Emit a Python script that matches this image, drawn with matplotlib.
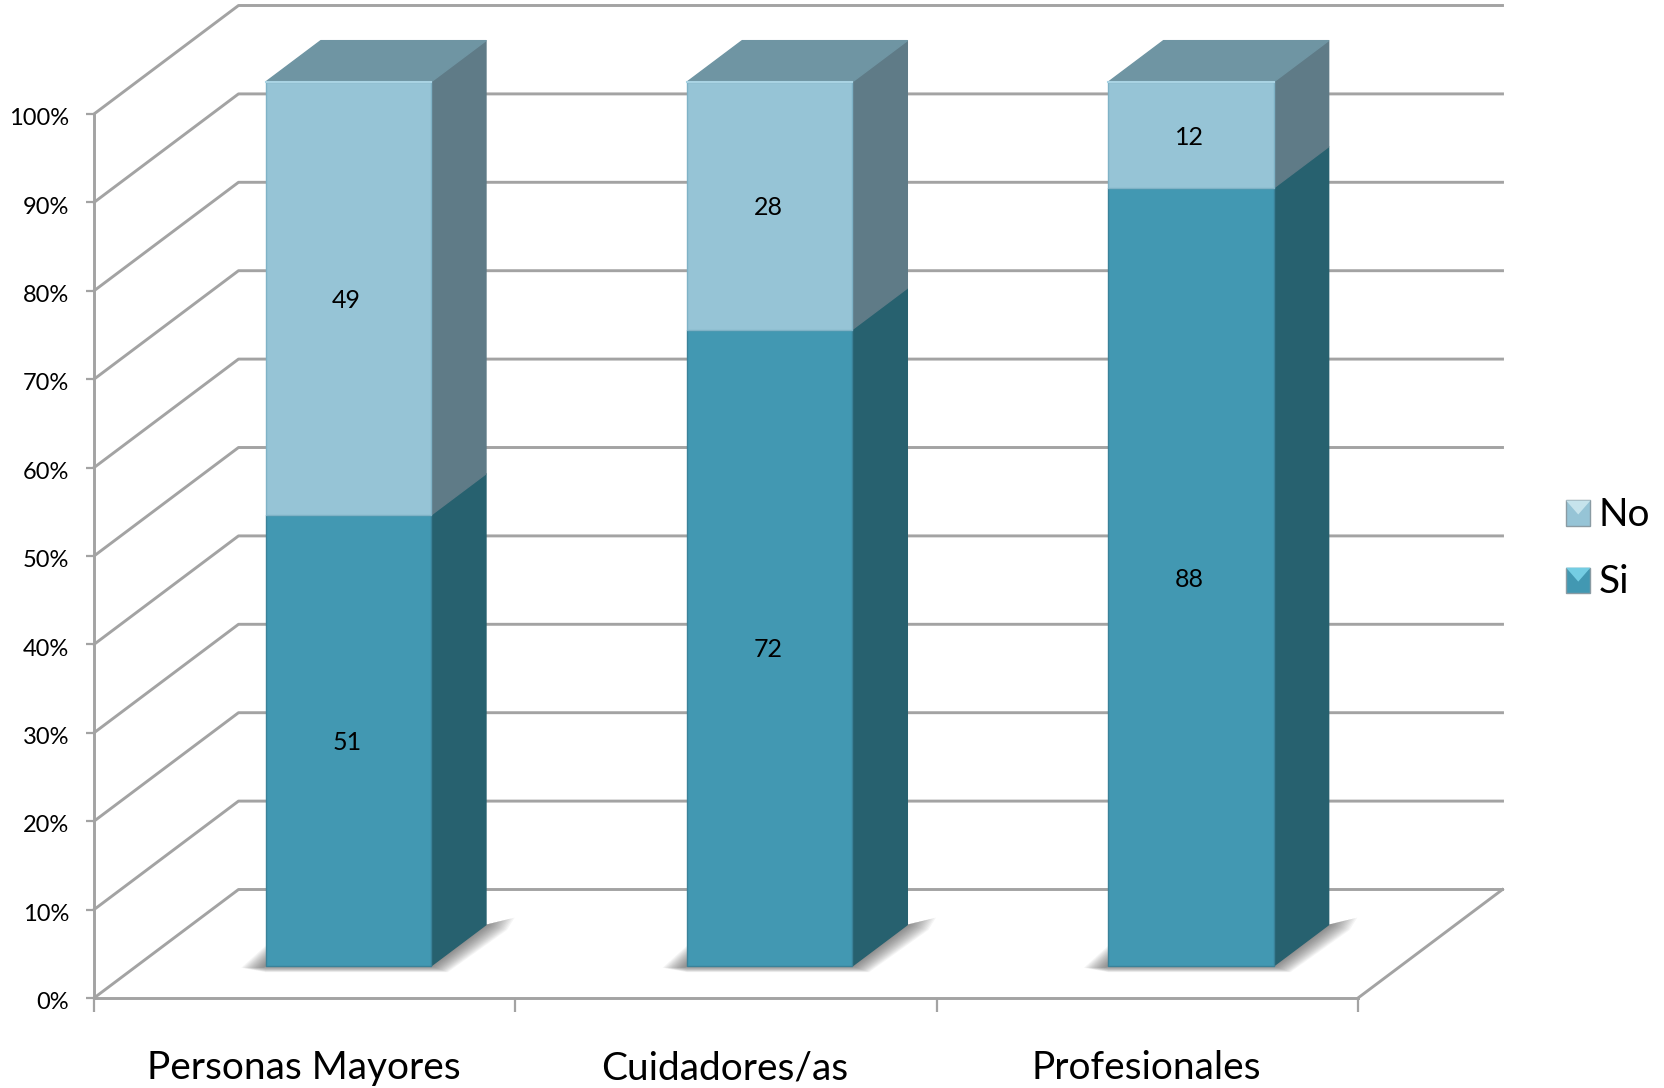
import matplotlib
matplotlib.use("Agg")
import matplotlib.pyplot as plt
from matplotlib.legend_handler import HandlerPatch
from matplotlib.patches import Patch, Polygon
from matplotlib.transforms import ScaledTranslation

categorias = ["Personas Mayores", "Cuidadores/as", "Profesionales"]
si = [51, 72, 88]
no = [49, 28, 12]
ticks_y = [0, 10, 20, 30, 40, 50, 60, 70, 80, 90, 100]

GRIS = "#a3a3a3"
COLOR_SI = "#4298b2"
LADO_SI = "#27616f"
COLOR_NO = "#96c4d6"
LADO_NO = "#5f7b87"
TAPA = "#6f95a3"

W, H = 1665, 1088
plt.rcParams["font.family"] = ["Lato", "DejaVu Sans"]

# tamaño del eje frontal en pixeles
x0, x1 = 94, 1358
y0, y100 = 998, 114

# oblicua: cuanto se mueve un punto al ir al fondo (en unidades de datos)
dx_fondo = 144.5 / ((x1 - x0) / 3)
dy_fondo = 108.5 / ((y0 - y100) / 100)

# la barra ocupa este tramo de la profundidad
d_ini = 0.295
d_fin = 0.676
ancho = 0.392
ox = (d_fin - d_ini) * dx_fondo
oy = (d_fin - d_ini) * dy_fondo


def p(x, y, d=0.0):
    return (x + d * dx_fondo, y + d * dy_fondo)


def cara(ax, puntos, color, z, borde=None):
    ax.add_patch(Polygon(puntos, closed=True, facecolor=color, edgecolor=borde or color,
                         lw=1.0, zorder=z, clip_on=False, joinstyle="round"))


def sombra(ax, xi, xf, b):
    # sombra borrosa: varios poligonos casi transparentes
    n = 16
    for i in range(n):
        t = 1 - i / n
        puntos = [
            (xi - 0.058 * t, b - 0.2),
            (xi, b + 2.3 * t),
            (xf + ox, b + oy),
            (xf + ox + 0.068 * t, b + oy + 0.8 * t),
            (xf + ox + 0.05 * t, b + oy - 0.6 * t),
            (xf + 0.04 * t, b - 0.7 * t),
            (xi, b - 0.7 * t),
        ]
        ax.add_patch(Polygon(puntos, closed=True, facecolor="#404040", edgecolor="none",
                             alpha=0.05, zorder=2, clip_on=False))


def dibuja_barra(ax, centro, v_si, v_no):
    xi, b = p(centro - ancho / 2, 0, d_ini)
    xf = xi + ancho
    sombra(ax, xi, xf, b)

    tramos = [(0, v_si, COLOR_SI, LADO_SI, "#3a8299"), (v_si, v_si + v_no, COLOR_NO, LADO_NO, "#7fb2c6")]
    for v_a, v_b, frente, lado, borde in tramos:
        # cara lateral
        cara(ax, [(xf, v_a + b), (xf, v_b + b), (xf + ox, v_b + b + oy), (xf + ox, v_a + b + oy)], lado, 3)
        # cara frontal
        cara(ax, [(xi, v_a + b), (xf, v_a + b), (xf, v_b + b), (xi, v_b + b)], frente, 4, borde)

    # tapa de arriba
    arriba = v_si + v_no + b
    cara(ax, [(xi, arriba), (xf, arriba), (xf + ox, arriba + oy), (xi + ox, arriba + oy)], TAPA, 3)
    ax.plot([xi, xf], [arriba, arriba], color="#a9d3e3", lw=1.5, zorder=5, clip_on=False)

    # etiquetas
    xc = (xi + xf) / 2 - 0.004
    ax.text(xc, b + v_si / 2, str(v_si), ha="center", va="center_baseline", fontsize=18, color="black", zorder=6)
    ax.text(xc, b + v_si + v_no / 2, str(v_no), ha="center", va="center_baseline", fontsize=18, color="black", zorder=6)


class HandlerBisel(HandlerPatch):
    # cuadradito de la leyenda con el bisel claro arriba
    def __init__(self, claro):
        super().__init__()
        self.claro = claro

    def create_artists(self, legend, orig_handle, xdescent, ydescent, width, height, fontsize, trans):
        base = Polygon([(0, 0), (width, 0), (width, height), (0, height)], closed=True,
                       facecolor=orig_handle.get_facecolor(), edgecolor="#8a9ba3", lw=1, transform=trans)
        bisel = Polygon([(0, height), (width, height), (width / 2, height * 0.45)], closed=True,
                        facecolor=self.claro, edgecolor="none", transform=trans)
        return [base, bisel]


fig = plt.figure(figsize=(W / 100, H / 100), dpi=100, facecolor="white")
ax = fig.add_axes([x0 / W, 1 - y0 / H, (x1 - x0) / W, (y0 - y100) / H])
ax.set_xlim(0, 3)
ax.set_ylim(0, 100)
ax.patch.set_visible(False)

# paredes: lineas de la cuadricula en oblicua y luego al fondo
for t in ticks_y:
    xs, ys = zip(p(0, t, 0), p(0, t, 1), p(3, t, 1))
    ax.plot(xs, ys, color=GRIS, lw=2.1, zorder=1, clip_on=False, solid_joinstyle="round")
# suelo
xs, ys = zip(p(3, 0, 1), p(3, 0, 0))
ax.plot(xs, ys, color=GRIS, lw=2.1, zorder=1, clip_on=False)

for i in range(len(categorias)):
    dibuja_barra(ax, i + 0.5025, si[i], no[i])

for lado in ["top", "right"]:
    ax.spines[lado].set_visible(False)
for lado in ["left", "bottom"]:
    ax.spines[lado].set_color(GRIS)
    ax.spines[lado].set_linewidth(2.1)

ax.set_yticks(ticks_y)
ax.set_yticklabels([f"{t}%" for t in ticks_y], fontsize=17)
ax.set_xticks([0, 1, 2, 3])
ax.set_xticklabels([])
ax.set_xticks([0.498, 1.498, 2.498], minor=True)
ax.set_xticklabels(categorias, minor=True, fontsize=28)
ax.tick_params(axis="y", length=6, width=1.6, color=GRIS, pad=12)
ax.tick_params(axis="x", which="major", length=10, width=1.6, color=GRIS)
ax.tick_params(axis="x", which="minor", length=0, pad=37.5)

# las etiquetas del eje y van un poco por debajo de su marca
bajar = ScaledTranslation(0, -2 / 72, fig.dpi_scale_trans)
for etiqueta in ax.get_yticklabels():
    etiqueta.set_transform(etiqueta.get_transform() + bajar)

mano_no = Patch(facecolor=COLOR_NO, label="No")
mano_si = Patch(facecolor=COLOR_SI, label="Si")
fig.legend(handles=[mano_no, mano_si], loc="center left", bbox_to_anchor=(1566 / W, 1 - 548.5 / H),
           borderaxespad=0, borderpad=0, frameon=False, fontsize=28, handlelength=0.63, handleheight=0.63,
           handletextpad=0.2, labelspacing=0.8,
           handler_map={mano_no: HandlerBisel("#c6e3ec"), mano_si: HandlerBisel("#74cde3")})

fig.savefig("out.png", dpi=100)
